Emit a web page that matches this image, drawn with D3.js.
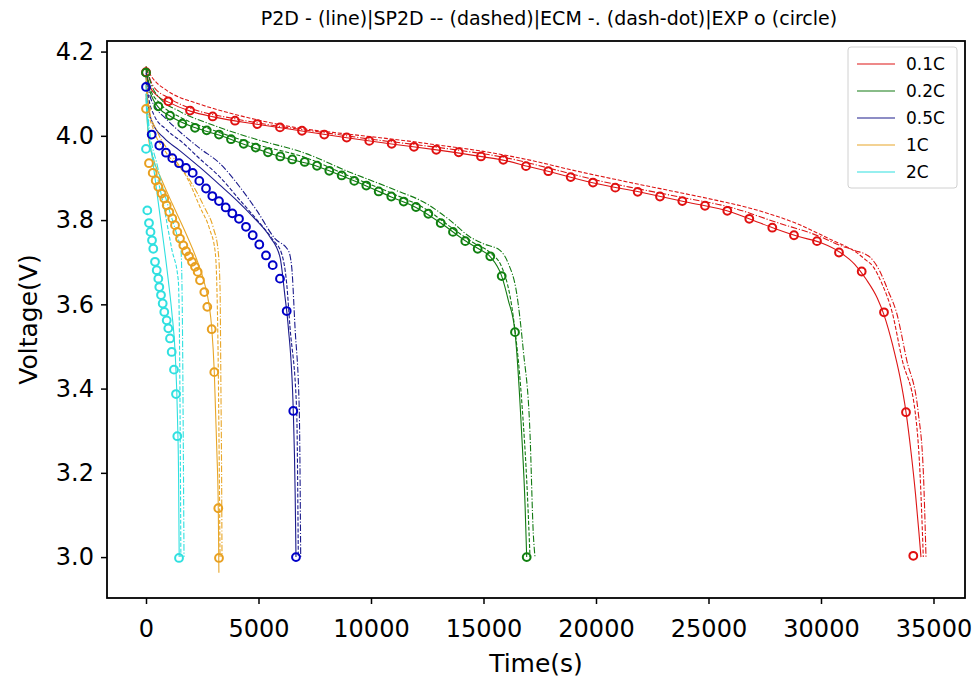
<!DOCTYPE html>
<html>
<head>
<meta charset="utf-8">
<script src="https://d3js.org/d3.v7.min.js"></script>
<style>
  body { margin: 0; background: #fff; }
  text { font-family: "DejaVu Sans", sans-serif; }
</style>
</head>
<body>
<div id="main"></div>
<script>
// C-rates and colours
const rates = ["0.1C", "0.2C", "0.5C", "1C", "2C"];
const lineColors = ["#dd1515", "#127a12", "#1c1c8c", "#e8a628", "#2ee0e0"];
const markColors = ["#e01010", "#108010", "#0000c8", "#e8a020", "#30e0e0"];

// [time (s), voltage (V)] pairs
// 0.1C
const exp01 = [[0,4.151],[991,4.082],[1956,4.060],[2964,4.046],[3956,4.036],[4947,4.028],[5956,4.020],[6933,4.012],[7924,4.003],[8920,3.996],[9924,3.988],[10920,3.981],[11911,3.974],[12902,3.967],[13898,3.961],[14889,3.951],[15880,3.943],[16889,3.928],[17880,3.916],[18876,3.902],[19867,3.889],[20858,3.877],[21853,3.867],[22844,3.856],[23836,3.845],[24844,3.834],[25836,3.822],[26813,3.803],[27836,3.782],[28800,3.764],[29822,3.750],[30800,3.723],[31809,3.678],[32800,3.581],[33778,3.344],[34102,3.003]];
const p2d01 = [[0,4.16],[150,4.12],[500,4.095],[991,4.080],[2000,4.058],[3000,4.045],[5000,4.027],[7000,4.011],[9000,3.995],[11000,3.980],[13000,3.966],[15000,3.950],[16000,3.941],[17000,3.927],[18000,3.914],[19000,3.900],[20000,3.887],[22000,3.866],[24000,3.843],[26000,3.819],[27000,3.799],[28000,3.779],[29000,3.761],[30000,3.746],[30800,3.725],[31500,3.695],[32000,3.660],[32500,3.615],[32800,3.575],[33200,3.500],[33500,3.430],[33778,3.344],[34000,3.250],[34200,3.150],[34350,3.060],[34444,3.0]];
const sp2d01 = [[0,4.163],[324,4.135],[920,4.108],[2400,4.075],[3880,4.052],[6844,4.018],[9000,4.004],[11289,3.990],[13000,3.978],[15000,3.963],[17000,3.943],[19000,3.918],[21000,3.895],[23000,3.873],[25000,3.851],[27000,3.826],[29000,3.790],[30500,3.752],[31436,3.728],[32000,3.705],[32324,3.689],[32700,3.650],[33164,3.581],[33600,3.470],[34187,3.344],[34400,3.200],[34547,3.0]];
const ecm01 = [[0,4.165],[300,4.12],[1000,4.09],[2000,4.065],[4000,4.040],[6000,4.022],[8000,4.007],[10000,3.992],[12000,3.979],[14000,3.965],[16000,3.948],[18000,3.922],[20000,3.895],[22000,3.873],[24000,3.852],[26000,3.830],[28000,3.795],[30000,3.760],[30844,3.740],[31500,3.728],[32178,3.712],[32600,3.680],[33000,3.630],[33360,3.580],[33800,3.470],[34320,3.344],[34550,3.200],[34667,3.0]];
// 0.2C
const exp02 = [[0,4.150],[547,4.070],[1067,4.048],[1613,4.029],[2178,4.019],[2698,4.013],[3244,4.003],[3778,3.992],[4342,3.981],[4876,3.972],[5422,3.961],[5969,3.951],[6502,3.944],[7053,3.938],[7600,3.929],[8147,3.917],[8698,3.906],[9258,3.893],[9791,3.882],[10342,3.868],[10902,3.856],[11453,3.844],[12000,3.831],[12547,3.815],[13098,3.793],[13644,3.772],[14191,3.750],[14742,3.732],[15302,3.714],[15809,3.667],[16400,3.534],[16920,3.0]];
const p2d02 = [[0,4.155],[150,4.11],[547,4.068],[1100,4.046],[2200,4.019],[3244,4.002],[4342,3.980],[5422,3.960],[6502,3.943],[7600,3.928],[8698,3.905],[9791,3.881],[10902,3.855],[12000,3.830],[13098,3.793],[14191,3.751],[14742,3.733],[15302,3.713],[15809,3.667],[16100,3.610],[16400,3.534],[16697,3.293],[16850,3.120],[16920,3.0]];
const sp2d02 = [[0,4.16],[200,4.11],[600,4.078],[1500,4.045],[3000,4.013],[5000,3.978],[7000,3.950],[9000,3.905],[11000,3.862],[12500,3.824],[13500,3.785],[14500,3.748],[15300,3.722],[15809,3.689],[16325,3.570],[16697,3.372],[16950,3.150],[17067,3.0]];
const ecm02 = [[0,4.165],[250,4.12],[700,4.085],[1500,4.058],[3000,4.025],[5000,3.990],[7000,3.960],[9000,3.915],[11000,3.873],[12500,3.838],[13500,3.800],[14400,3.760],[14991,3.744],[15733,3.728],[16102,3.697],[16475,3.626],[16768,3.491],[17067,3.293],[17213,3.056],[17289,3.0]];
// 0.5C
const exp05 = [[0,4.116],[253,4.003],[591,3.977],[889,3.960],[1169,3.947],[1467,3.935],[1778,3.924],[2075,3.912],[2369,3.893],[2667,3.875],[2947,3.857],[3244,3.845],[3542,3.830],[3836,3.816],[4133,3.803],[4444,3.784],[4742,3.764],[5035,3.742],[5333,3.716],[5631,3.693],[5955,3.661],[6253,3.584],[6546,3.347],[6666,3.0]];
const p2d05 = [[0,4.13],[100,4.07],[300,4.03],[800,3.995],[1500,3.965],[2400,3.925],[3289,3.883],[4031,3.847],[4769,3.807],[5511,3.760],[5955,3.712],[6178,3.618],[6324,3.546],[6546,3.347],[6630,3.15],[6666,3.0]];
const sp2d05 = [[0,4.14],[120,4.09],[350,4.05],[900,4.015],[1600,3.985],[2400,3.945],[3289,3.902],[4178,3.847],[5067,3.792],[5658,3.752],[6031,3.720],[6253,3.649],[6400,3.546],[6697,3.347],[6769,3.0]];
const ecm05 = [[0,4.15],[150,4.10],[400,4.07],[900,4.04],[1600,4.005],[2400,3.970],[3289,3.934],[4178,3.878],[4920,3.823],[5733,3.756],[6324,3.728],[6475,3.689],[6622,3.546],[6813,3.347],[6875,3.0]];
// 1C
const exp1 = [[0,4.064],[133,3.935],[298,3.912],[431,3.894],[547,3.879],[698,3.863],[813,3.851],[920,3.835],[1036,3.819],[1169,3.804],[1289,3.788],[1391,3.772],[1511,3.756],[1658,3.740],[1778,3.726],[1911,3.714],[2044,3.701],[2178,3.689],[2298,3.677],[2400,3.657],[2591,3.629],[2724,3.594],[2920,3.541],[3035,3.439],[3213,3.116],[3244,2.998]];
const p2d1 = [[0,4.10],[100,4.00],[300,3.95],[700,3.895],[1200,3.835],[1800,3.765],[2300,3.70],[2600,3.65],[2800,3.60],[2920,3.545],[3035,3.44],[3150,3.25],[3213,3.116],[3240,2.963]];
const sp2d1 = [[0,4.12],[100,4.06],[300,4.02],[900,3.96],[1809,3.902],[2400,3.831],[2844,3.776],[3067,3.728],[3142,3.657],[3200,3.5],[3250,3.25],[3290,3.0]];
const ecm1 = [[0,4.14],[150,4.06],[500,4.01],[1200,3.95],[2000,3.89],[2600,3.83],[3000,3.78],[3200,3.73],[3290,3.64],[3330,3.40],[3360,3.2],[3378,3.0]];
// 2C
const exp2 = [[0,3.969],[58,3.823],[133,3.793],[200,3.772],[267,3.752],[324,3.732],[400,3.701],[476,3.681],[547,3.661],[591,3.641],[667,3.622],[742,3.602],[813,3.582],[920,3.562],[991,3.543],[1067,3.519],[1142,3.487],[1244,3.445],[1333,3.387],[1391,3.287],[1467,2.998]];
const p2d2 = [[0,4.09],[31,4.053],[300,3.94],[600,3.82],[991,3.657],[1150,3.58],[1300,3.48],[1400,3.33],[1450,3.18],[1475,3.0]];
const sp2d2 = [[0,4.10],[104,4.021],[400,3.93],[800,3.83],[1150,3.73],[1435,3.657],[1500,3.45],[1530,3.2],[1550,3.0]];
const ecm2 = [[0,4.12],[100,4.04],[500,3.93],[1000,3.83],[1400,3.76],[1555,3.728],[1620,3.55],[1660,3.25],[1689,3.0]];

const xTicks = [0, 5000, 10000, 15000, 20000, 25000, 30000, 35000];
const yTicks = [3.0, 3.2, 3.4, 3.6, 3.8, 4.0, 4.2];
const title = "P2D - (line)|SP2D -- (dashed)|ECM -. (dash-dot)|EXP o (circle)";

const p2d = [p2d01, p2d02, p2d05, p2d1, p2d2];
const sp2d = [sp2d01, sp2d02, sp2d05, sp2d1, sp2d2];
const ecm = [ecm01, ecm02, ecm05, ecm1, ecm2];
const exp = [exp01, exp02, exp05, exp1, exp2];

const W = 973, H = 679;
const plot = { left: 107, right: 965, top: 41, bottom: 598 };

const svg = d3.select("#main").append("svg")
  .attr("width", W).attr("height", H);

// matplotlib style 5% margins around the data
const all = [].concat(...p2d, ...sp2d, ...ecm, ...exp);
const xe = d3.extent(all, d => d[0]), ye = d3.extent(all, d => d[1]);
const xm = (xe[1] - xe[0]) * 0.05, ym = (ye[1] - ye[0]) * 0.05;

const x = d3.scaleLinear().domain([xe[0] - xm, xe[1] + xm]).range([plot.left, plot.right]);
const y = d3.scaleLinear().domain([ye[0] - ym, ye[1] + ym]).range([plot.bottom, plot.top]);

const line = d3.line().x(d => x(d[0])).y(d => y(d[1])).curve(d3.curveMonotoneX);

svg.append("defs").append("clipPath").attr("id", "clip")
  .append("rect")
  .attr("x", plot.left).attr("y", plot.top)
  .attr("width", plot.right - plot.left).attr("height", plot.bottom - plot.top);

const g = svg.append("g").attr("clip-path", "url(#clip)");

function drawLines(sets, dash) {
  sets.forEach((s, i) => {
    g.append("path")
      .datum(s)
      .attr("d", line)
      .attr("fill", "none")
      .attr("stroke", lineColors[i])
      .attr("stroke-width", 1.1)
      .attr("stroke-dasharray", dash);
  });
}
drawLines(p2d, null);
drawLines(sp2d, "4,1.8");
drawLines(ecm, "6.5,1.8,1.2,1.8");

exp.forEach((s, i) => {
  g.append("g").selectAll("circle")
    .data(s)
    .join("circle")
    .attr("cx", d => x(d[0]))
    .attr("cy", d => y(d[1]))
    .attr("r", 3.9)
    .attr("fill", "none")
    .attr("stroke", markColors[i])
    .attr("stroke-width", 2);
});

// axes
const xAxis = svg.append("g")
  .attr("transform", `translate(0,${plot.bottom})`)
  .call(d3.axisBottom(x).tickValues(xTicks).tickFormat(d3.format("d")).tickSize(6).tickSizeOuter(0));
const yAxis = svg.append("g")
  .attr("transform", `translate(${plot.left},0)`)
  .call(d3.axisLeft(y).tickValues(yTicks).tickFormat(d3.format(".1f"))
    .tickSize(6).tickPadding(7).tickSizeOuter(0));

[xAxis, yAxis].forEach(a => {
  a.select(".domain").remove();
  a.selectAll(".tick line").attr("stroke", "#000").attr("stroke-width", 1.5);
  a.selectAll(".tick text").attr("fill", "#000").attr("font-size", 24)
    .attr("font-family", "DejaVu Sans");
});
xAxis.selectAll(".tick text").attr("dy", "1.25em");

svg.append("rect")
  .attr("x", plot.left).attr("y", plot.top)
  .attr("width", plot.right - plot.left).attr("height", plot.bottom - plot.top)
  .attr("fill", "none").attr("stroke", "#000").attr("stroke-width", 1.8);

svg.append("text")
  .attr("x", (plot.left + plot.right) / 2).attr("y", 672)
  .attr("text-anchor", "middle").attr("font-size", 25)
  .text("Time(s)");

svg.append("text")
  .attr("transform", `translate(37,${(plot.top + plot.bottom) / 2}) rotate(-90)`)
  .attr("text-anchor", "middle").attr("font-size", 25)
  .text("Voltage(V)");

svg.append("text")
  .attr("x", 549).attr("y", 25)
  .attr("text-anchor", "middle").attr("font-size", 19)
  .text(title);

// legend
const lg = svg.append("g").attr("transform", "translate(848,47)");
lg.append("rect")
  .attr("width", 109).attr("height", 141).attr("rx", 3)
  .attr("fill", "#fff").attr("fill-opacity", 0.8)
  .attr("stroke", "#d0d0d0").attr("stroke-width", 1);
rates.forEach((r, i) => {
  const yy = 17 + i * 27;
  lg.append("line")
    .attr("x1", 9).attr("x2", 47).attr("y1", yy).attr("y2", yy)
    .attr("stroke", lineColors[i]).attr("stroke-width", 1.1);
  lg.append("text")
    .attr("x", 58).attr("y", yy).attr("dy", "0.35em")
    .attr("font-size", 17).text(r);
});
</script>
</body>
</html>
